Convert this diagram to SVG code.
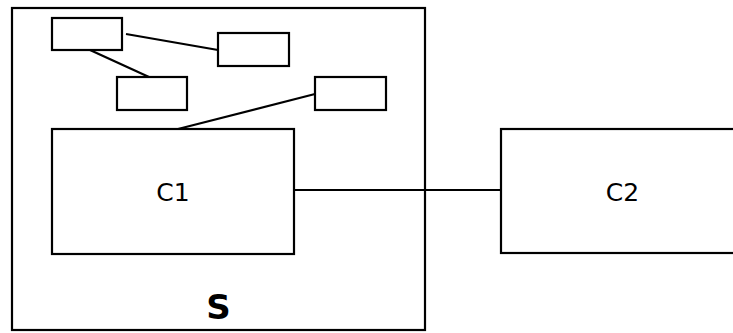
<svg xmlns="http://www.w3.org/2000/svg" width="733" height="333" viewBox="0 0 733 333">
<style>
.box{fill:#fff;stroke:#000;stroke-width:2.2}
.ln{stroke:#000;stroke-width:2.2;fill:none}
.lbl{font-family:"DejaVu Sans",sans-serif;font-size:25px;fill:#000;text-anchor:middle}
.big{font-family:"DejaVu Sans",sans-serif;font-size:34px;font-weight:bold;fill:#000;text-anchor:middle}
</style>
<rect width="733" height="333" fill="#fff"/>
<g id="S"><rect class="box" x="12" y="8" width="413" height="322"/><text class="big" x="218.5" y="318.5">S</text></g>
<g id="connectors">
<line class="ln" x1="126" y1="34" x2="218" y2="50"/>
<line class="ln" x1="90" y1="50" x2="149" y2="77"/>
<line class="ln" x1="315" y1="94" x2="178" y2="129"/>
<line class="ln" x1="294" y1="190" x2="501" y2="190"/>
</g>
<g id="n1"><rect class="box" x="52" y="18" width="70" height="32"/></g>
<g id="n2"><rect class="box" x="218" y="33" width="71" height="33"/></g>
<g id="n3"><rect class="box" x="117" y="77" width="70" height="33"/></g>
<g id="n4"><rect class="box" x="315" y="77" width="71" height="33"/></g>
<g id="C1"><rect class="box" x="52" y="129" width="242" height="125"/><text class="lbl" x="173" y="200.5">C1</text></g>
<g id="C2"><rect class="box" x="501" y="129" width="243" height="124"/><text class="lbl" x="622.5" y="200.5">C2</text></g>
</svg>
